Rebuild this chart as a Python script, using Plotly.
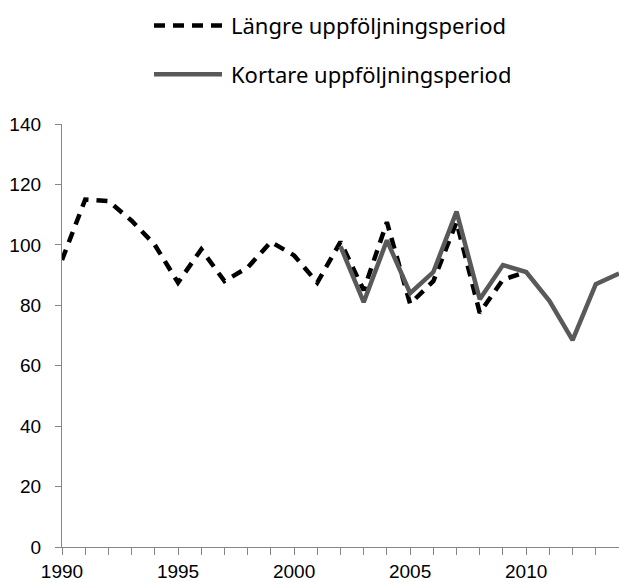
import plotly.graph_objects as go

years_long = list(range(1990, 2011))
values_long = [95, 115, 114.5, 108, 100, 87.5, 98.5, 88, 92.5, 101, 96.5, 87.5, 101,
               85, 107.5, 80.5, 88, 107.5, 77.5, 88.5, 91]
years_short = list(range(2002, 2015))
values_short = [99.5, 81, 101.5, 84, 91, 111, 82, 93.3, 91, 81.5, 68.5, 87, 90.5]

name_long = "Längre uppföljningsperiod"
name_short = "Kortare uppföljningsperiod"

style_long = dict(color="#000000", width=4.5, dash="11px,8px")
style_short = dict(color="#595959", width=4.5)

# plot area in pixels: x 62..619, y 124..549
L, R, T, B = 62, 619, 124, 549
def px(x):
    return (x - L) / (R - L)
def py(y):
    return (B - y) / (B - T)

fig = go.Figure()
fig.add_trace(go.Scatter(x=years_long, y=values_long, mode="lines", name=name_long,
                         line=style_long, showlegend=False, hoverinfo="skip"))
fig.add_trace(go.Scatter(x=years_short, y=values_short, mode="lines", name=name_short,
                         line=style_short, showlegend=False, hoverinfo="skip"))

# legend drawn as line samples + text
legend_items = [(name_long, style_long, 25), (name_short, style_short, 74)]
for name, style, yy in legend_items:
    fig.add_shape(type="line", xref="paper", yref="paper",
                  x0=px(154), x1=px(222), y0=py(yy), y1=py(yy),
                  line=style)
    fig.add_annotation(text=name, xref="paper", yref="paper",
                       x=px(229), y=py(yy), xanchor="left", yanchor="middle",
                       showarrow=False,
                       font=dict(family="Noto Sans", size=22, color="#000000"))

fig.update_layout(
    width=619, height=582,
    margin=dict(l=L, r=619 - R, t=T, b=582 - B),
    paper_bgcolor="white", plot_bgcolor="white",
    showlegend=False,
    font=dict(family="Liberation Sans", size=19, color="#000000"),
)
fig.update_xaxes(range=[1990, 2014], tickmode="linear", tick0=1990, dtick=5,
                 ticks="outside", ticklen=7, tickcolor="#868686",
                 showline=True, linecolor="#868686", linewidth=1.3,
                 showgrid=False, zeroline=False,
                 minor=dict(dtick=1, ticks="outside", ticklen=7, tickcolor="#868686", showgrid=False),
                 tickfont=dict(family="Liberation Sans", size=19))
fig.update_yaxes(range=[0, 140], tickmode="linear", tick0=0, dtick=20,
                 ticks="outside", ticklen=6, tickcolor="#868686",
                 ticklabelstandoff=10,
                 showline=True, linecolor="#868686", linewidth=1.3,
                 showgrid=False, zeroline=False,
                 tickfont=dict(family="Liberation Sans", size=19))

fig.write_html("out.html", config={"displayModeBar": False},
               post_script="document.body.style.margin='0';document.body.style.overflow='hidden';")
